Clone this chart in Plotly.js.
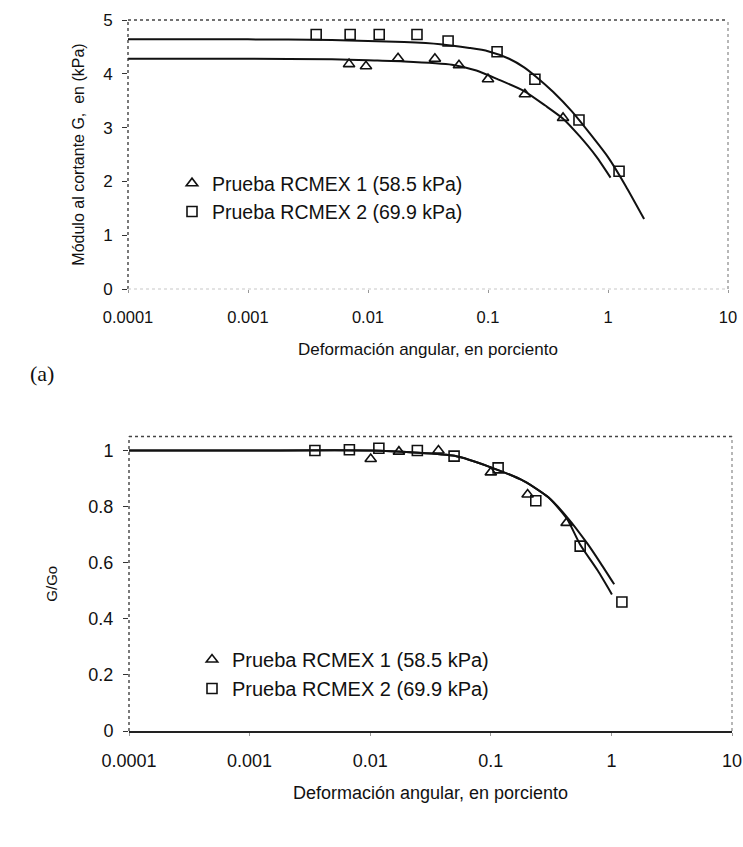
<!DOCTYPE html>
<html>
<head>
<meta charset="utf-8">
<script src="https://cdn.plot.ly/plotly-3.0.1.min.js"></script>
<style>html,body{margin:0;padding:0;background:#fff;}#chart{width:743px;height:847px;}</style>
</head>
<body>
<div id="chart"></div>
<script>
// ---- Data ----
const seriesNames = ["Prueba RCMEX 1 (58.5 kPa)", "Prueba RCMEX 2 (69.9 kPa)"];
const xTickVals = [0.0001, 0.001, 0.01, 0.1, 1, 10];
const xTickText = ["0.0001", "0.001", "0.01", "0.1", "1", "10"];
const topYTicks = [0, 1, 2, 3, 4, 5];
const botYTicks = [0, 0.2, 0.4, 0.6, 0.8, 1];
const botYTickText = ["0", "0.2", "0.4", "0.6", "0.8", "1"];

// (a) Shear modulus G (kPa)
const triX = [0.00695, 0.00962, 0.0178, 0.0361, 0.0573, 0.1, 0.203, 0.422];
const triY = [4.18, 4.14, 4.29, 4.28, 4.16, 3.90, 3.62, 3.18];
const sqX = [0.0037, 0.0071, 0.0124, 0.0256, 0.0465, 0.119, 0.246, 0.573, 1.236];
const sqY = [4.73, 4.73, 4.73, 4.73, 4.61, 4.41, 3.90, 3.14, 2.19];
const fitTriX = [0.0001, 0.001, 0.005, 0.01, 0.02, 0.05, 0.08, 0.12, 0.2, 0.3, 0.42, 0.58, 0.8, 1.05];
const fitTriY = [4.28, 4.28, 4.27, 4.25, 4.23, 4.17, 4.06, 3.90, 3.68, 3.41, 3.17, 2.84, 2.46, 2.07];
const fitSqX = [0.0001, 0.001, 0.005, 0.01, 0.02, 0.04, 0.07, 0.1, 0.15, 0.2, 0.25, 0.35, 0.5, 0.7, 1.0, 1.4, 2.0];
const fitSqY = [4.64, 4.64, 4.63, 4.61, 4.59, 4.55, 4.48, 4.42, 4.28, 4.12, 3.95, 3.66, 3.30, 2.90, 2.45, 1.92, 1.30];

// (b) Normalised G/Go
const bTriX = [0.0101, 0.0173, 0.0368, 0.1, 0.202, 0.425];
const bTriY = [0.97, 0.996, 1.0, 0.922, 0.843, 0.742];
const bSqX = [0.00348, 0.00672, 0.0118, 0.0246, 0.0496, 0.115, 0.236, 0.551, 1.222];
const bSqY = [1.0, 1.003, 1.008, 1.0, 0.98, 0.938, 0.821, 0.659, 0.46];
const bFitTriX = [0.0001, 0.001, 0.01, 0.023, 0.05, 0.1, 0.19, 0.3, 0.43, 0.635, 0.82, 1.055];
const bFitTriY = [1.0, 1.0, 1.0, 0.993, 0.981, 0.94, 0.89, 0.833, 0.762, 0.667, 0.596, 0.523];
const bFitSqX = [0.0001, 0.001, 0.01, 0.023, 0.05, 0.1, 0.19, 0.3, 0.43, 0.55, 0.77, 1.01];
const bFitSqY = [1.0, 1.0, 1.0, 0.993, 0.981, 0.94, 0.89, 0.833, 0.755, 0.665, 0.572, 0.487];

// ---- Styles ----
const FONT = "Liberation Sans, Arial, Helvetica, sans-serif";
const INK = "#111111";
const W = 743, H = 847;
const px = v => v / W;           // horizontal px -> paper
const py = v => 1 - v / H;       // vertical px -> paper

function line(x, y, xa, ya) {
  return {x: x, y: y, xaxis: xa, yaxis: ya, type: "scatter", mode: "lines",
    line: {color: INK, width: 2, shape: "spline", smoothing: 0.6}, showlegend: false, hoverinfo: "skip"};
}
function marks(x, y, xa, ya, sym, name, legend) {
  return {x: x, y: y, xaxis: xa, yaxis: ya, type: "scatter", mode: "markers", name: name,
    legend: legend,
    marker: {symbol: sym, size: 10, color: INK, line: {color: INK, width: 1.6}}};
}

const data = [
  line(fitTriX, fitTriY, "x", "y"),
  line(fitSqX, fitSqY, "x", "y"),
  marks(triX, triY, "x", "y", "triangle-up-open", seriesNames[0], "legend"),
  marks(sqX, sqY, "x", "y", "square-open", seriesNames[1], "legend"),
  line(bFitTriX, bFitTriY, "x2", "y2"),
  line(bFitSqX, bFitSqY, "x2", "y2"),
  marks(bTriX, bTriY, "x2", "y2", "triangle-up-open", seriesNames[0], "legend2"),
  marks(bSqX, bSqY, "x2", "y2", "square-open", seriesNames[1], "legend2")
];

const xAxisCommon = {
  type: "log", range: [-4, 1], tickvals: xTickVals, ticktext: xTickText,
  showgrid: false, zeroline: false, ticks: "outside", ticklen: 3, tickcolor: "#999",
  ticklabelstandoff: 10, automargin: false
};

function frame(xr, yr, extraBottom) {
  const s = [
    {type: "line", xref: xr + " domain", yref: yr + " domain", x0: 0, x1: 0, y0: 0, y1: 1,
      line: {color: "#333", width: 1.3, dash: "dot"}},
    {type: "line", xref: xr + " domain", yref: yr + " domain", x0: 0, x1: 1, y0: 1, y1: 1,
      line: {color: "#444", width: 1.3, dash: "dot"}},
    {type: "line", xref: xr + " domain", yref: yr + " domain", x0: 1, x1: 1, y0: 0, y1: 1,
      line: {color: "#888", width: 1.2, dash: "dot"}}
  ];
  if (extraBottom) s.push({type: "line", xref: xr + " domain", yref: yr + " domain", x0: 0, x1: 1, y0: 0, y1: 0,
      line: {color: "#c8c8c8", width: 1.2, dash: "dot"}});
  return s;
}

const layout = {
  width: W, height: H,
  margin: {l: 0, r: 0, t: 0, b: 0},
  paper_bgcolor: "#ffffff", plot_bgcolor: "#ffffff",
  font: {family: FONT, color: INK},
  xaxis: Object.assign({}, xAxisCommon, {
    domain: [px(128), px(728)], anchor: "y", showline: false,
    tickfont: {family: FONT, size: 16.5, color: INK},
    title: {text: "Deformación angular, en porciento", font: {family: FONT, size: 17, color: INK}, standoff: 18}
  }),
  yaxis: {
    domain: [py(289), py(20)], anchor: "x", range: [0, 5], tickvals: topYTicks,
    showgrid: false, zeroline: false, showline: false, ticks: "outside", ticklen: 5, tickcolor: "#333",
    tickfont: {family: FONT, size: 17, color: INK}, ticklabelstandoff: 6, automargin: false,
    title: {text: "Módulo al cortante G,  en (kPa)", font: {family: FONT, size: 16, color: INK}, standoff: 14}
  },
  xaxis2: Object.assign({}, xAxisCommon, {
    domain: [px(129), px(732)], anchor: "y2", showline: true, linecolor: "#222", linewidth: 1.6,
    tickfont: {family: FONT, size: 18, color: INK},
    title: {text: "Deformación angular, en porciento", font: {family: FONT, size: 18, color: INK}, standoff: 16}
  }),
  yaxis2: {
    domain: [py(731), py(436.5)], anchor: "x2", range: [0, 1.05], tickvals: botYTicks, ticktext: botYTickText,
    showgrid: false, zeroline: false, showline: false, ticks: "outside", ticklen: 5, tickcolor: "#333",
    tickfont: {family: FONT, size: 18, color: INK}, ticklabelstandoff: 6, automargin: false,
    title: {text: "G/Go", font: {family: FONT, size: 15, color: INK}, standoff: 27}
  },
  legend: {
    x: px(172), y: py(164), xanchor: "left", yanchor: "top",
    bgcolor: "rgba(0,0,0,0)", borderwidth: 0, tracegroupgap: 0,
    font: {family: FONT, size: 19.5, color: INK}
  },
  legend2: {
    x: px(192), y: py(640), xanchor: "left", yanchor: "top",
    bgcolor: "rgba(0,0,0,0)", borderwidth: 0, tracegroupgap: 0,
    font: {family: FONT, size: 20, color: INK}
  },
  shapes: frame("x", "y", true).concat(frame("x2", "y2", false)),
  annotations: [
    {text: "(a)", xref: "paper", yref: "paper", x: px(42), y: py(374), xanchor: "center", yanchor: "middle",
      showarrow: false, font: {family: "Liberation Serif, Times New Roman, serif", size: 22, color: INK}}
  ]
};

Plotly.newPlot("chart", data, layout, {displayModeBar: false, staticPlot: true});
</script>
</body>
</html>
